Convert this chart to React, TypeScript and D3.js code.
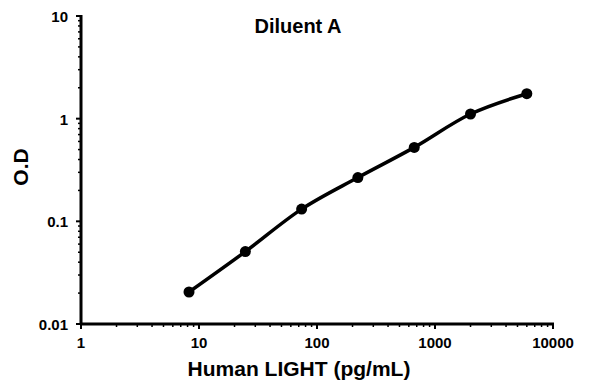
import React, { useEffect, useRef } from "react";
import * as d3 from "d3";

const concentrations = [8.23, 24.7, 74.1, 222, 667, 2000, 6000];
const odValues = [0.0205, 0.0507, 0.1315, 0.267, 0.525, 1.11, 1.75];
const xTicks = [1, 10, 100, 1000, 10000];
const yTicks = [0.01, 0.1, 1, 10];

const App = () => {
  const svgRef = useRef<SVGSVGElement>(null);

  useEffect(() => {
    const svg = d3.select(svgRef.current);
    svg.selectAll("*").remove();

    const font = "'Liberation Sans', Arial, sans-serif";
    const x = d3.scaleLog().domain([1, 10000]).range([81, 553]);
    const y = d3.scaleLog().domain([0.01, 10]).range([324, 16]);

    // minor ticks
    const minorX: number[] = [];
    for (let d = 1; d < 10000; d *= 10)
      for (let k = 2; k < 10; k++) minorX.push(d * k);
    const minorY: number[] = [];
    for (let d = 0.01; d < 9; d *= 10)
      for (let k = 2; k < 10; k++) minorY.push(d * k);

    const g = svg.append("g");

    g.selectAll(".mx")
      .data(minorX)
      .enter()
      .append("line")
      .attr("x1", (d) => x(d))
      .attr("x2", (d) => x(d))
      .attr("y1", 324)
      .attr("y2", 327)
      .attr("stroke", "#000")
      .attr("stroke-width", 1.5);

    g.selectAll(".my")
      .data(minorY)
      .enter()
      .append("line")
      .attr("y1", (d) => y(d))
      .attr("y2", (d) => y(d))
      .attr("x1", 81)
      .attr("x2", 78)
      .attr("stroke", "#000")
      .attr("stroke-width", 1.5);

    g.selectAll(".Mx")
      .data(xTicks)
      .enter()
      .append("line")
      .attr("x1", (d) => x(d))
      .attr("x2", (d) => x(d))
      .attr("y1", 324)
      .attr("y2", 329)
      .attr("stroke", "#000")
      .attr("stroke-width", 2);

    g.selectAll(".My")
      .data(yTicks)
      .enter()
      .append("line")
      .attr("y1", (d) => y(d))
      .attr("y2", (d) => y(d))
      .attr("x1", 81)
      .attr("x2", 76)
      .attr("stroke", "#000")
      .attr("stroke-width", 2);

    // axis lines
    g.append("line")
      .attr("x1", 81)
      .attr("x2", 81)
      .attr("y1", 15)
      .attr("y2", 325)
      .attr("stroke", "#000")
      .attr("stroke-width", 3);
    g.append("line")
      .attr("x1", 80)
      .attr("x2", 554)
      .attr("y1", 324)
      .attr("y2", 324)
      .attr("stroke", "#000")
      .attr("stroke-width", 3);

    g.selectAll(".xl")
      .data(xTicks)
      .enter()
      .append("text")
      .attr("x", (d) => x(d))
      .attr("y", 348)
      .attr("text-anchor", "middle")
      .style("font-family", font)
      .style("font-weight", "bold")
      .style("font-size", "15px")
      .text((d) => String(d));

    g.selectAll(".yl")
      .data(yTicks)
      .enter()
      .append("text")
      .attr("x", 68)
      .attr("y", (d) => y(d) + 6)
      .attr("text-anchor", "end")
      .style("font-family", font)
      .style("font-weight", "bold")
      .style("font-size", "15px")
      .text((d) => String(d));

    const pts = concentrations.map((c, i) => [c, odValues[i]] as [number, number]);

    const line = d3
      .line<[number, number]>()
      .x((d) => x(d[0]))
      .y((d) => y(d[1]))
      .curve(d3.curveCatmullRom.alpha(0.5));

    g.append("path")
      .datum(pts)
      .attr("d", line)
      .attr("fill", "none")
      .attr("stroke", "#000")
      .attr("stroke-width", 3.5);

    g.selectAll(".pt")
      .data(pts)
      .enter()
      .append("circle")
      .attr("cx", (d) => x(d[0]))
      .attr("cy", (d) => y(d[1]))
      .attr("r", 5.5)
      .attr("fill", "#000");

    g.append("text")
      .attr("x", 298)
      .attr("y", 33)
      .attr("text-anchor", "middle")
      .style("font-family", font)
      .style("font-weight", "bold")
      .style("font-size", "20px")
      .text("Diluent A");

    g.append("text")
      .attr("x", 299)
      .attr("y", 376)
      .attr("text-anchor", "middle")
      .style("font-family", font)
      .style("font-weight", "bold")
      .style("font-size", "21px")
      .text("Human LIGHT (pg/mL)");

    g.append("text")
      .attr("transform", "translate(28,167) rotate(-90)")
      .attr("text-anchor", "middle")
      .style("font-family", font)
      .style("font-weight", "bold")
      .style("font-size", "21px")
      .text("O.D");
  }, []);

  return (
    <svg
      ref={svgRef}
      width={596}
      height={384}
      style={{ position: "absolute", left: 0, top: 0, background: "#fff" }}
    />
  );
};

export default App;
